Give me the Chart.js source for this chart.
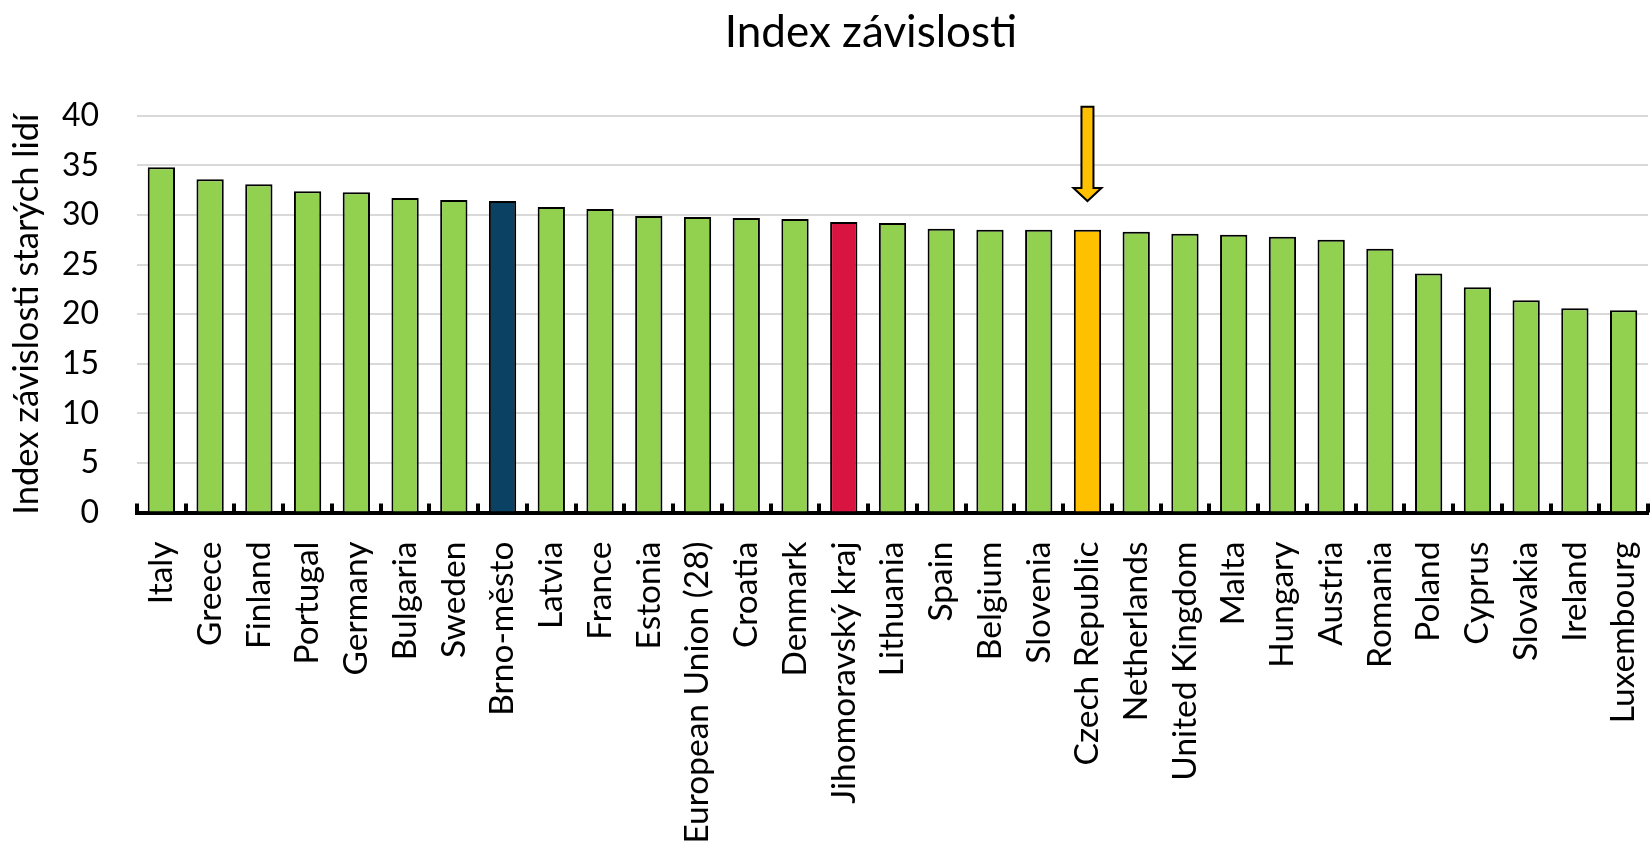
<!DOCTYPE html>
<html>
<head>
<meta charset="utf-8">
<script src="https://cdn.jsdelivr.net/npm/chart.js@4/dist/chart.umd.min.js"></script>
<style>
  html, body { margin: 0; padding: 0; background: #fff; }
  #wrap { width: 1650px; height: 851px; position: relative; }
</style>
</head>
<body>
<div id="wrap"><canvas id="c"></canvas></div>
<script>
const chartTitle = 'Index závislosti';
const yAxisTitle = 'Index závislosti starých lidí';
const categories = [
  'Italy', 'Greece', 'Finland', 'Portugal', 'Germany', 'Bulgaria', 'Sweden',
  'Brno-město', 'Latvia', 'France', 'Estonia', 'European Union (28)', 'Croatia',
  'Denmark', 'Jihomoravský kraj', 'Lithuania', 'Spain', 'Belgium', 'Slovenia',
  'Czech Republic', 'Netherlands', 'United Kingdom', 'Malta', 'Hungary', 'Austria',
  'Romania', 'Poland', 'Cyprus', 'Slovakia', 'Ireland', 'Luxembourg'
];
const values = [
  34.8, 33.6, 33.1, 32.4, 32.3, 31.7, 31.5,
  31.4, 30.8, 30.6, 29.9, 29.8, 29.7,
  29.6, 29.3, 29.2, 28.6, 28.5, 28.5,
  28.5, 28.3, 28.1, 28.0, 27.8, 27.5,
  26.6, 24.1, 22.7, 21.4, 20.6, 20.4
];
const yTicks = [0, 5, 10, 15, 20, 25, 30, 35, 40];
// annotation arrow over the highlighted category (in data units)
const arrowCategory = 'Czech Republic';
const arrowFromValue = 40.9;
const arrowToValue = 31.4;

// styles
const baseColor = '#92D050';
const highlightColors = { 'Brno-město': '#0B4162', 'Jihomoravský kraj': '#D91440', 'Czech Republic': '#FFC000' };
const FONT = 'Lato, "Open Sans", sans-serif';

const insideTicks = {
  id: 'insideTicks',
  afterDatasetsDraw(chart) {
    const xs = chart.scales.x;
    const ctx = chart.ctx;
    const bottom = chart.chartArea.bottom;
    ctx.save();
    ctx.fillStyle = '#000';
    for (let i = 0; i <= categories.length; i++) {
      const px = xs.getPixelForValue(i - 0.5);
      ctx.fillRect(Math.round(px) - 2, bottom - 9, 4, 9);
    }
    ctx.restore();
  }
};

const arrowPlugin = {
  id: 'arrowPlugin',
  afterDraw(chart) {
    const xs = chart.scales.x, ys = chart.scales.y;
    const i = categories.indexOf(arrowCategory);
    if (i < 0) return;
    const cx = xs.getPixelForValue(i);
    const yTop = ys.getPixelForValue(arrowFromValue);
    const yTip = ys.getPixelForValue(arrowToValue);
    const headLen = 13, shaftHalf = 6, headHalf = 14;
    const ctx = chart.ctx;
    ctx.save();
    ctx.beginPath();
    ctx.moveTo(cx - shaftHalf, yTop);
    ctx.lineTo(cx + shaftHalf, yTop);
    ctx.lineTo(cx + shaftHalf, yTip - headLen);
    ctx.lineTo(cx + headHalf, yTip - headLen);
    ctx.lineTo(cx, yTip);
    ctx.lineTo(cx - headHalf, yTip - headLen);
    ctx.lineTo(cx - shaftHalf, yTip - headLen);
    ctx.closePath();
    ctx.fillStyle = '#FFC000';
    ctx.fill();
    ctx.lineWidth = 2;
    ctx.strokeStyle = '#000';
    ctx.lineJoin = 'miter';
    ctx.stroke();
    ctx.restore();
  }
};

// shift the title's centring box so it sits where the reference title sits
const titleShift = {
  id: 'titleShift',
  afterLayout(chart) {
    if (chart.titleBlock) { chart.titleBlock.left = 94; }
  }
};

new Chart(document.getElementById('c'), {
  type: 'bar',
  data: {
    labels: categories,
    datasets: [{
      data: values,
      backgroundColor: categories.map(c => highlightColors[c] || baseColor),
      borderColor: '#000',
      borderWidth: 2,
      borderSkipped: 'bottom',
      categoryPercentage: 1.0,
      barPercentage: 0.56
    }]
  },
  options: {
    responsive: true,
    maintainAspectRatio: false,
    animation: false,
    devicePixelRatio: 1,
    layout: { padding: { left: 0, right: 2, top: 0, bottom: 0 } },
    plugins: {
      legend: { display: false },
      tooltip: { enabled: false },
      title: {
        display: true,
        text: chartTitle,
        color: '#000',
        font: { family: FONT, size: 44, weight: 'normal', lineHeight: 1.2 },
        padding: { top: 6.4, bottom: 56.6 }
      }
    },
    scales: {
      x: {
        grid: { display: false, drawTicks: false },
        border: { display: true, color: '#000', width: 4 },
        ticks: {
          color: '#000',
          autoSkip: false,
          maxRotation: 90,
          minRotation: 90,
          padding: 29,
          font: { family: FONT, size: 33.5 }
        },
        afterFit(scale) {
          scale.height = 851 - 512.5;
          scale.paddingLeft = 0;
          scale.paddingRight = 0;
        }
      },
      y: {
        min: 0,
        max: 40,
        afterBuildTicks(scale) { scale.ticks = yTicks.map(v => ({ value: v })); },
        grid: { color: '#d9d9d9', lineWidth: 2, drawTicks: false },
        border: { display: false },
        ticks: {
          color: '#000',
          padding: 38,
          font: { family: FONT, size: 32 }
        },
        title: {
          display: true,
          text: yAxisTitle,
          color: '#000',
          font: { family: FONT, size: 34.5, lineHeight: 1.2 },
          padding: { top: 6, bottom: 0 }
        },
        afterFit(scale) { scale.width = 137; }
      }
    }
  },
  plugins: [insideTicks, arrowPlugin, titleShift]
});
</script>
</body>
</html>
